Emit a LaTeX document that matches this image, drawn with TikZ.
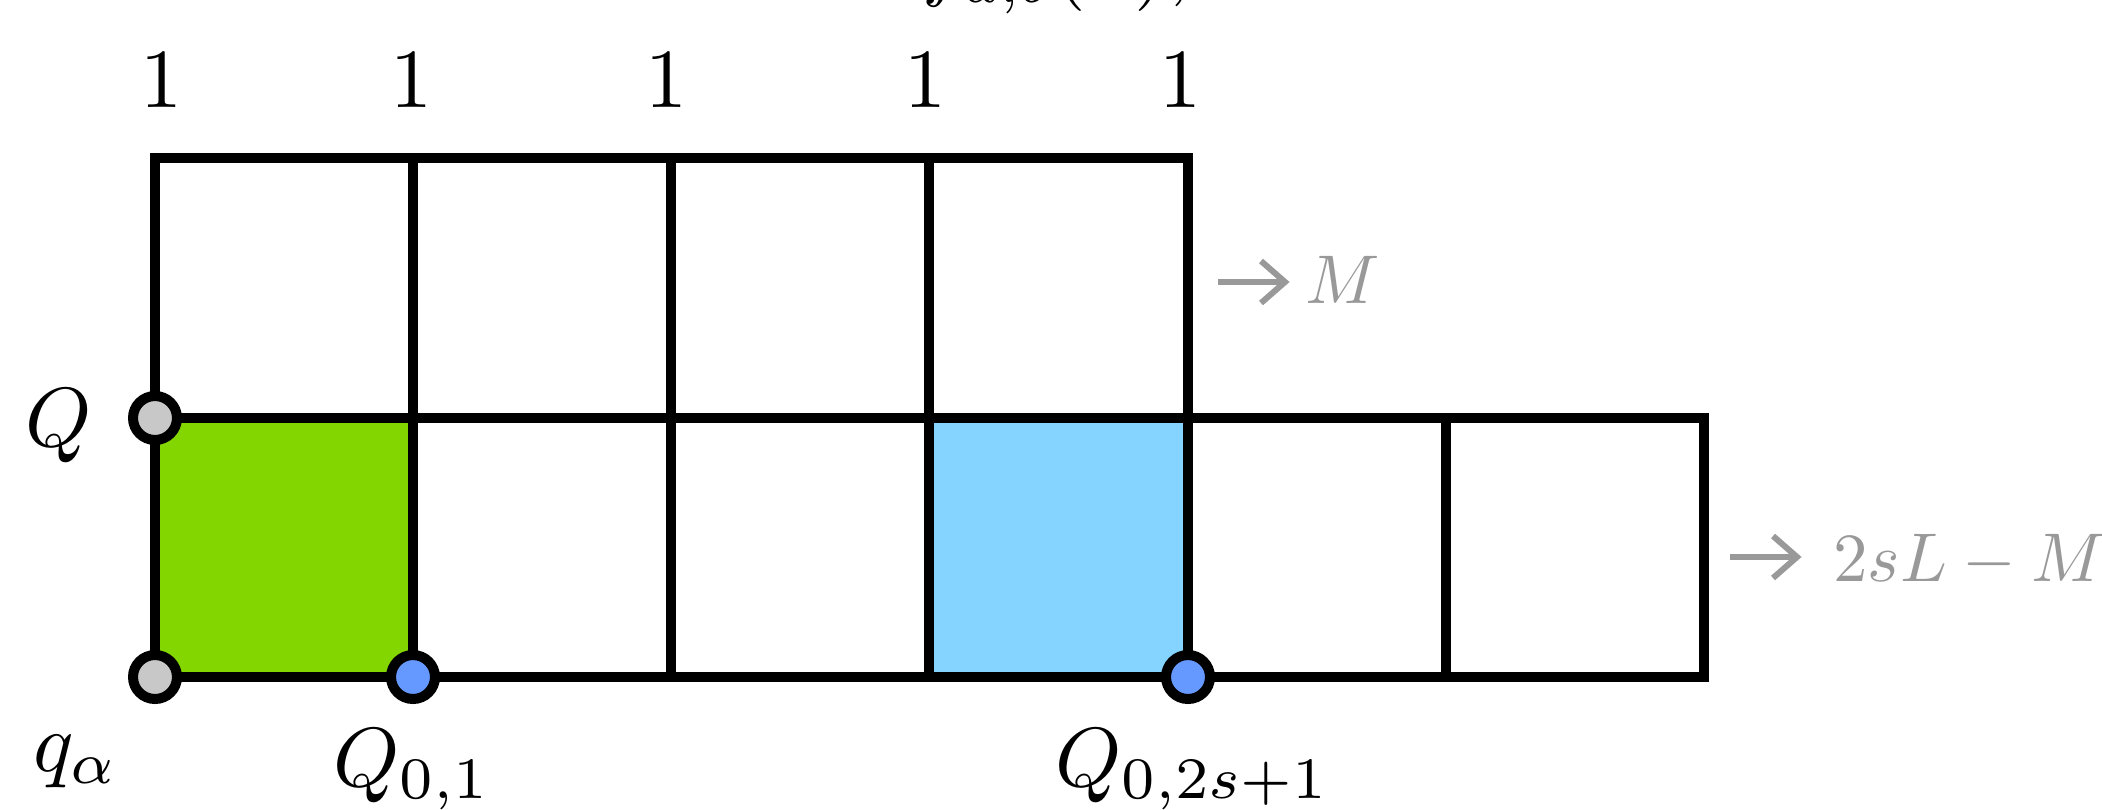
\documentclass[tikz,border=0pt]{standalone}
\usepackage{amsmath}
\definecolor{cgreen}{HTML}{84D600}
\definecolor{clblue}{HTML}{84D4FF}
\definecolor{cdblue}{HTML}{6699FF}
\definecolor{cgraydot}{HTML}{C8C8C8}
\definecolor{cgraytext}{HTML}{999999}
\newcommand{\myblackmath}[1]{\scalebox{4.2}{$#1$}}
\newcommand{\mygraymath}[1]{\scalebox{3.45}{$#1$}}
\begin{document}
\begin{tikzpicture}[x=0.5pt,y=-0.5pt,
  gridline/.style={line width=5pt,draw=black},
  dot/.style={circle,draw=black,line width=5pt,minimum size=22pt,inner sep=0pt},
  graydot/.style={dot,fill=cgraydot},
  bluedot/.style={dot,fill=cdblue},
  bigtxt/.style={inner sep=0pt},
  graytxt/.style={text=cgraytext,inner sep=0pt},
  grayarrow/.style={draw=cgraytext,line width=3pt,miter limit=10}]
\useasboundingbox (0,0) rectangle (2102,809);
% coloured cells
\fill[cgreen] (155,418) rectangle (413,677);
\fill[clblue] (929,418) rectangle (1188,677);
% top row cells
\foreach \a/\b in {155/413,413/671,671/929,929/1188}
  \draw[gridline] (\a,158) rectangle (\b,418);
% bottom row cells
\foreach \a/\b in {155/413,413/671,671/929,929/1188,1188/1446,1446/1704}
  \draw[gridline] (\a,418) rectangle (\b,677);
% dots
\node[graydot] (Qd) at (155,418) {};
\node[graydot] (qd) at (155,677) {};
\node[bluedot] (Q01d) at (413,677) {};
\node[bluedot] (Q02d) at (1188,677) {};
% labels
\node[bigtxt,anchor=base] (one1) at (161,107) {\myblackmath{1}};
\node[bigtxt,anchor=base] (one2) at (411,107) {\myblackmath{1}};
\node[bigtxt,anchor=base] (one3) at (666,107) {\myblackmath{1}};
\node[bigtxt,anchor=base] (one4) at (925,107) {\myblackmath{1}};
\node[bigtxt,anchor=base] (one5) at (1180,107) {\myblackmath{1}};
\node[bigtxt,anchor=base] (Ql) at (59,446) {\myblackmath{Q}};
\node[bigtxt,anchor=base west] (ql) at (33,771) {\myblackmath{q_\alpha}};
\node[bigtxt,anchor=base west] (Q01l) at (333,786) {\myblackmath{Q_{0,1}}};
\node[bigtxt,anchor=base west] (Q02l) at (1055,786) {\myblackmath{Q_{0,2s+1}}};
% gray arrows and texts
\coordinate (a1s) at (1218,282);
\coordinate (a1t) at (1285,282);
\draw[grayarrow] (a1s) -- (a1t);
\draw[grayarrow] ([shift={(-24,-21)}]a1t) -- (a1t) -- ([shift={(-24,21)}]a1t);
\node[graytxt,anchor=base west] (Ml) at (1305,303) {\mygraymath{M}};
\coordinate (a2s) at (1730,557);
\coordinate (a2t) at (1797,557);
\draw[grayarrow] (a2s) -- (a2t);
\draw[grayarrow] ([shift={(-24,-21)}]a2t) -- (a2t) -- ([shift={(-24,21)}]a2t);
\node[graytxt,anchor=base west] (Rl) at (1833,581) {\mygraymath{2sL-M}};
% cropped caption at top edge
\node[bigtxt,anchor=base west] (cap) at (922,-10) {\myblackmath{f_{a,b}(x),}};
\end{tikzpicture}
\end{document}
